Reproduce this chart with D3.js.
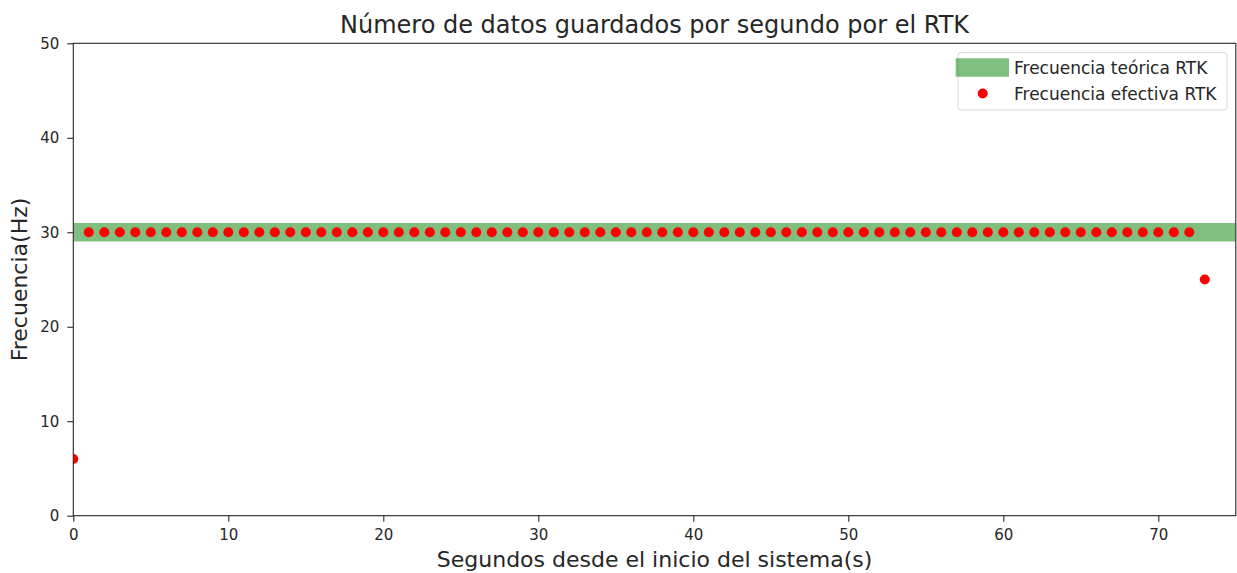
<!DOCTYPE html>
<html>
<head>
<meta charset="utf-8">
<script src="https://cdn.jsdelivr.net/npm/d3@7"></script>
<style>
  body { margin: 0; background: #fff; }
  text { font-family: "DejaVu Sans", sans-serif; fill: #262626; }
</style>
</head>
<body>
<svg id="chart" width="1237" height="573"></svg>
<script>
// data
var seconds = d3.range(0, 74);          // 0 .. 73
var effectiveHz = [6].concat(d3.range(1, 73).map(function() { return 30; }), [25]);
var theoreticalHz = 30;
var xTicks = [0, 10, 20, 30, 40, 50, 60, 70];
var yTicks = [0, 10, 20, 30, 40, 50];

var margin = {left: 73.3, top: 43.3, right: 1237 - 1235.8, bottom: 573 - 515.7};
var W = 1237, H = 573;

var svg = d3.select("#chart");

var x = d3.scaleLinear().domain([0, 75]).range([margin.left, W - margin.right]);
var y = d3.scaleLinear().domain([0, 50]).range([H - margin.bottom, margin.top]);

svg.append("clipPath").attr("id", "clip")
  .append("rect")
  .attr("x", x(0)).attr("y", y(50))
  .attr("width", x(75) - x(0)).attr("height", y(0) - y(50));

var plot = svg.append("g").attr("clip-path", "url(#clip)");

// theoretical frequency: thick green line
plot.append("line")
  .attr("x1", x(0)).attr("x2", x(75))
  .attr("y1", y(theoreticalHz)).attr("y2", y(theoreticalHz))
  .attr("stroke", "green").attr("stroke-opacity", 0.5)
  .attr("stroke-width", 18.4);

// effective frequency points
plot.selectAll("circle.pt")
  .data(seconds)
  .enter().append("circle")
  .attr("class", "pt")
  .attr("cx", function(d) { return x(d); })
  .attr("cy", function(d, i) { return y(effectiveHz[i]); })
  .attr("r", 5)
  .attr("fill", "red");

// axes
var xAxis = d3.axisBottom(x).tickValues(xTicks).tickSize(6).tickPadding(8);
var yAxis = d3.axisLeft(y).tickValues(yTicks).tickSize(6).tickPadding(8);

var gx = svg.append("g").attr("transform", "translate(0," + y(0) + ")").call(xAxis);
var gy = svg.append("g").attr("transform", "translate(" + x(0) + ",0)").call(yAxis);
[gx, gy].forEach(function(g) {
  g.select(".domain").remove();
  g.selectAll("line").attr("stroke", "#262626").attr("stroke-width", 1.1);
  g.selectAll("text").style("font-size", "15px").style("font-family", "DejaVu Sans").attr("fill", "#262626");
});

// spines
svg.append("rect")
  .attr("x", x(0)).attr("y", y(50))
  .attr("width", x(75) - x(0)).attr("height", y(0) - y(50))
  .attr("fill", "none").attr("stroke", "#262626").attr("stroke-width", 1.1);

// titles
svg.append("text")
  .attr("x", (x(0) + x(75)) / 2).attr("y", 33)
  .attr("text-anchor", "middle")
  .style("font-size", "24px")
  .text("Número de datos guardados por segundo por el RTK");

svg.append("text")
  .attr("x", (x(0) + x(75)) / 2).attr("y", 567)
  .attr("text-anchor", "middle")
  .style("font-size", "22px")
  .text("Segundos desde el inicio del sistema(s)");

svg.append("text")
  .attr("transform", "translate(27," + ((y(0) + y(50)) / 2) + ") rotate(-90)")
  .attr("text-anchor", "middle")
  .style("font-size", "22px")
  .text("Frecuencia(Hz)");

// legend
var lg = svg.append("g").attr("transform", "translate(958,52.5)");
lg.append("rect")
  .attr("width", 269).attr("height", 57.5).attr("rx", 3)
  .attr("fill", "#fff").attr("fill-opacity", 0.8)
  .attr("stroke", "#d9d9d9");
lg.append("line")
  .attr("x1", -2.3).attr("x2", 51).attr("y1", 15).attr("y2", 15)
  .attr("stroke", "green").attr("stroke-opacity", 0.5).attr("stroke-width", 18.4);
lg.append("circle").attr("cx", 24.7).attr("cy", 41).attr("r", 5).attr("fill", "red");
lg.append("text").attr("x", 56).attr("y", 21.5).style("font-size", "17px").text("Frecuencia teórica RTK");
lg.append("text").attr("x", 56).attr("y", 47.5).style("font-size", "17px").text("Frecuencia efectiva RTK");
</script>
</body>
</html>
